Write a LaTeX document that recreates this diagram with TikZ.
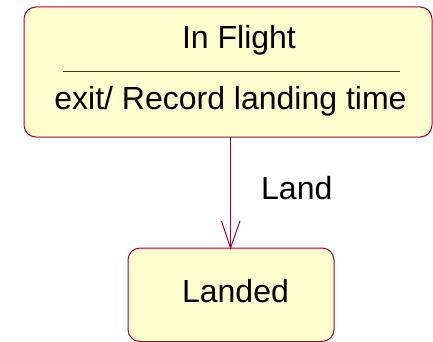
\documentclass[tikz,border=0pt]{standalone}
\usepackage{fontspec}
\setmainfont{Liberation Sans}
\definecolor{stfill}{HTML}{FEFECE}
\definecolor{stline}{HTML}{A80036}
\begin{document}
\begin{tikzpicture}[x=1pt,y=-1pt,
  statebox/.style={draw=stline,fill=stfill,line width=1pt,rounded corners=12pt},
  lbl/.style={font=\fontsize{32}{36}\selectfont,inner sep=0pt,anchor=base},
  conn/.style={draw=stline,line width=1pt}]
\useasboundingbox (0,0) rectangle (433,342);
\clip (0,0) rectangle (433,342);
% In Flight state
\path[statebox] (24,7) rectangle (432,137);
\node[coordinate] (flightS) at (230.5,137) {};
\draw[conn] (63,72) -- (400,72);
\node[lbl] (t1) at (239,49) {In Flight};
\node[lbl] (t2) at (230.5,110) {exit/ Record landing time};
% Landed state
\path[statebox] (128,248) rectangle (334,341.5);
\node[coordinate] (landedN) at (230.5,248) {};
\node[lbl] (t3) at (235.5,302) {Landed};
% Transition
\draw[conn] (flightS) -- (landedN);
\coordinate (wl) at (221.5,221);
\coordinate (wr) at (240,221);
\draw[conn] (wl) -- (landedN) -- (wr);
\node[lbl,anchor=base west] (land) at (261,199) {Land};
\end{tikzpicture}
\end{document}
